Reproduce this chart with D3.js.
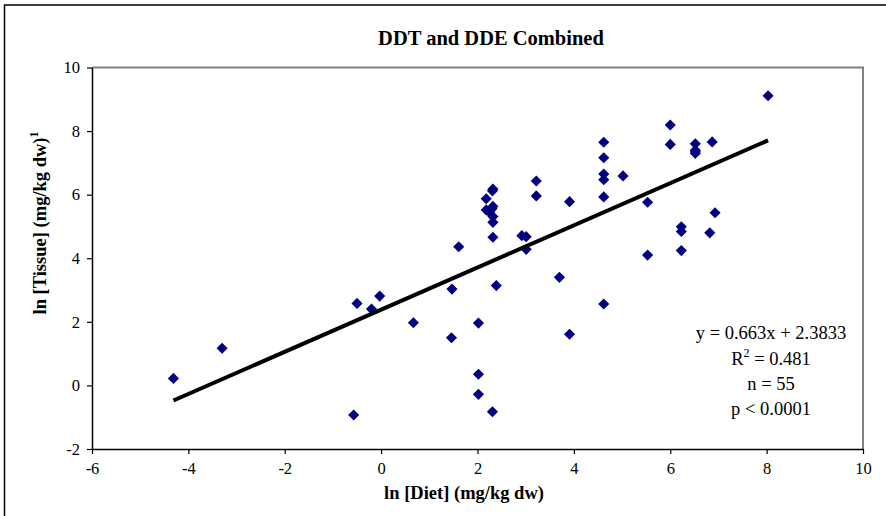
<!DOCTYPE html>
<html>
<head>
<meta charset="utf-8">
<script src="https://cdn.jsdelivr.net/npm/d3@7"></script>
<style>
  body { margin: 0; background: #fff; }
  svg text { font-family: "Liberation Serif", "Times New Roman", serif; fill: #000; }
</style>
</head>
<body>
<div id="chart"></div>
<script>
// ln diet values (x) and ln tissue values (y)
const dietLn = [
  -4.31, -3.30, -0.57, -0.50, -0.20, -0.03, 0.67, 1.47, 1.46, 1.61,
  2.02, 2.02, 2.02, 2.31, 2.39, 2.32, 2.31, 2.18, 2.32, 2.18,
  2.25, 2.30, 2.32, 2.32, 2.32, 2.92, 3.01, 3.01, 3.22, 3.22,
  3.91, 3.70, 3.91, 4.62, 4.62, 4.62, 4.62, 5.02, 4.62, 4.62,
  5.53, 5.53, 6.00, 6.00, 6.52, 6.52, 6.52, 6.52, 6.87, 6.93,
  6.23, 6.23, 6.82, 6.23, 8.03
];
const tissueLn = [
  0.22, 1.17, -0.93, 2.58, 2.40, 2.81, 1.97, 3.03, 1.50, 4.36,
  1.96, 0.35, -0.28, -0.83, 3.14, 6.18, 6.12, 5.87, 5.63, 5.52,
  5.45, 5.56, 5.31, 5.13, 4.66, 4.71, 4.68, 4.28, 6.43, 5.96,
  5.78, 3.40, 1.61, 7.65, 7.16, 6.65, 6.47, 6.59, 5.93, 2.56,
  5.76, 4.10, 8.19, 7.58, 7.60, 7.40, 7.30, 7.35, 7.66, 5.43,
  4.99, 4.84, 4.80, 4.24, 9.11
];
const xTicks = [-6, -4, -2, 0, 2, 4, 6, 8, 10];
const yTicks = [-2, 0, 2, 4, 6, 8, 10];
const slope = 0.663, intercept = 2.3833;
const statLines = ["y = 0.663x + 2.3833", "R2 = 0.481", "n = 55", "p < 0.0001"];

const W = 886, H = 516;
const plot = { left: 92, top: 67.5, right: 863, bottom: 449 };
const serif = "'Liberation Serif', 'Times New Roman', serif";

const svg = d3.select("#chart").append("svg")
  .attr("width", W).attr("height", H);

// outer chart frame (only top and left edges are in view)
svg.append("path")
  .attr("d", `M4.5,${H} V5 H${W}`)
  .attr("fill", "none").attr("stroke", "#000").attr("stroke-width", 1.5);

const x = d3.scaleLinear().domain([-6, 10]).range([plot.left, plot.right]);
const y = d3.scaleLinear().domain([-2, 10]).range([plot.bottom, plot.top]);

// grey top/right plot border
svg.append("path")
  .attr("d", `M${plot.left},${plot.top} H${plot.right} V${plot.bottom}`)
  .attr("fill", "none").attr("stroke", "#808080").attr("stroke-width", 2);

// axes
const fmt = d => String(d);
const xAxis = svg.append("g")
  .attr("transform", `translate(0,${plot.bottom})`)
  .call(d3.axisBottom(x).tickValues(xTicks).tickFormat(fmt)
    .tickSizeInner(5).tickSizeOuter(0).tickPadding(8));
const yAxis = svg.append("g")
  .attr("transform", `translate(${plot.left},0)`)
  .call(d3.axisLeft(y).tickValues(yTicks).tickFormat(fmt)
    .tickSizeInner(5).tickSizeOuter(0).tickPadding(7));
[xAxis, yAxis].forEach(g => {
  g.attr("font-family", serif).attr("font-size", 16.5);
  g.select(".domain").attr("stroke", "#000").attr("stroke-width", 1.5);
  g.selectAll(".tick line").attr("stroke", "#000").attr("stroke-width", 1.2);
});

// points
svg.append("g").selectAll("path")
  .data(dietLn.map((d, i) => [d, tissueLn[i]]))
  .join("path")
  .attr("d", d3.symbol(d3.symbolSquare, 62))
  .attr("transform", d => `translate(${x(d[0])},${y(d[1])}) rotate(45)`)
  .attr("fill", "#000080");

// trend line over the data range
const xr = d3.extent(dietLn);
svg.append("line")
  .attr("x1", x(xr[0])).attr("y1", y(slope * xr[0] + intercept))
  .attr("x2", x(xr[1])).attr("y2", y(slope * xr[1] + intercept))
  .attr("stroke", "#000").attr("stroke-width", 4);

// title
svg.append("text")
  .attr("x", 491).attr("y", 45)
  .attr("text-anchor", "middle")
  .style("font-size", "20.5px").style("font-weight", "bold")
  .text("DDT and DDE Combined");

// axis titles
svg.append("text")
  .attr("x", 464).attr("y", 499)
  .attr("text-anchor", "middle")
  .style("font-size", "18.5px").style("font-weight", "bold")
  .text("ln [Diet] (mg/kg dw)");

const yl = svg.append("text")
  .attr("transform", "translate(46,223) rotate(-90)")
  .attr("text-anchor", "middle")
  .style("font-size", "18.5px").style("font-weight", "bold");
yl.append("tspan").text("ln [Tissue] (mg/kg dw)");
yl.append("tspan").attr("dy", -8).style("font-size", "12px").text("1");

// regression stats
const stats = svg.append("g").attr("text-anchor", "middle").style("font-size", "18.5px");
const statY = [339, 365, 390, 415];
statLines.forEach((s, i) => {
  const t = stats.append("text").attr("x", 771).attr("y", statY[i]);
  if (s.startsWith("R2")) {
    t.append("tspan").text("R");
    t.append("tspan").attr("dy", -8).style("font-size", "12px").text("2");
    t.append("tspan").attr("dy", 8).text(s.slice(2));
  } else {
    t.text(s);
  }
});
</script>
</body>
</html>
